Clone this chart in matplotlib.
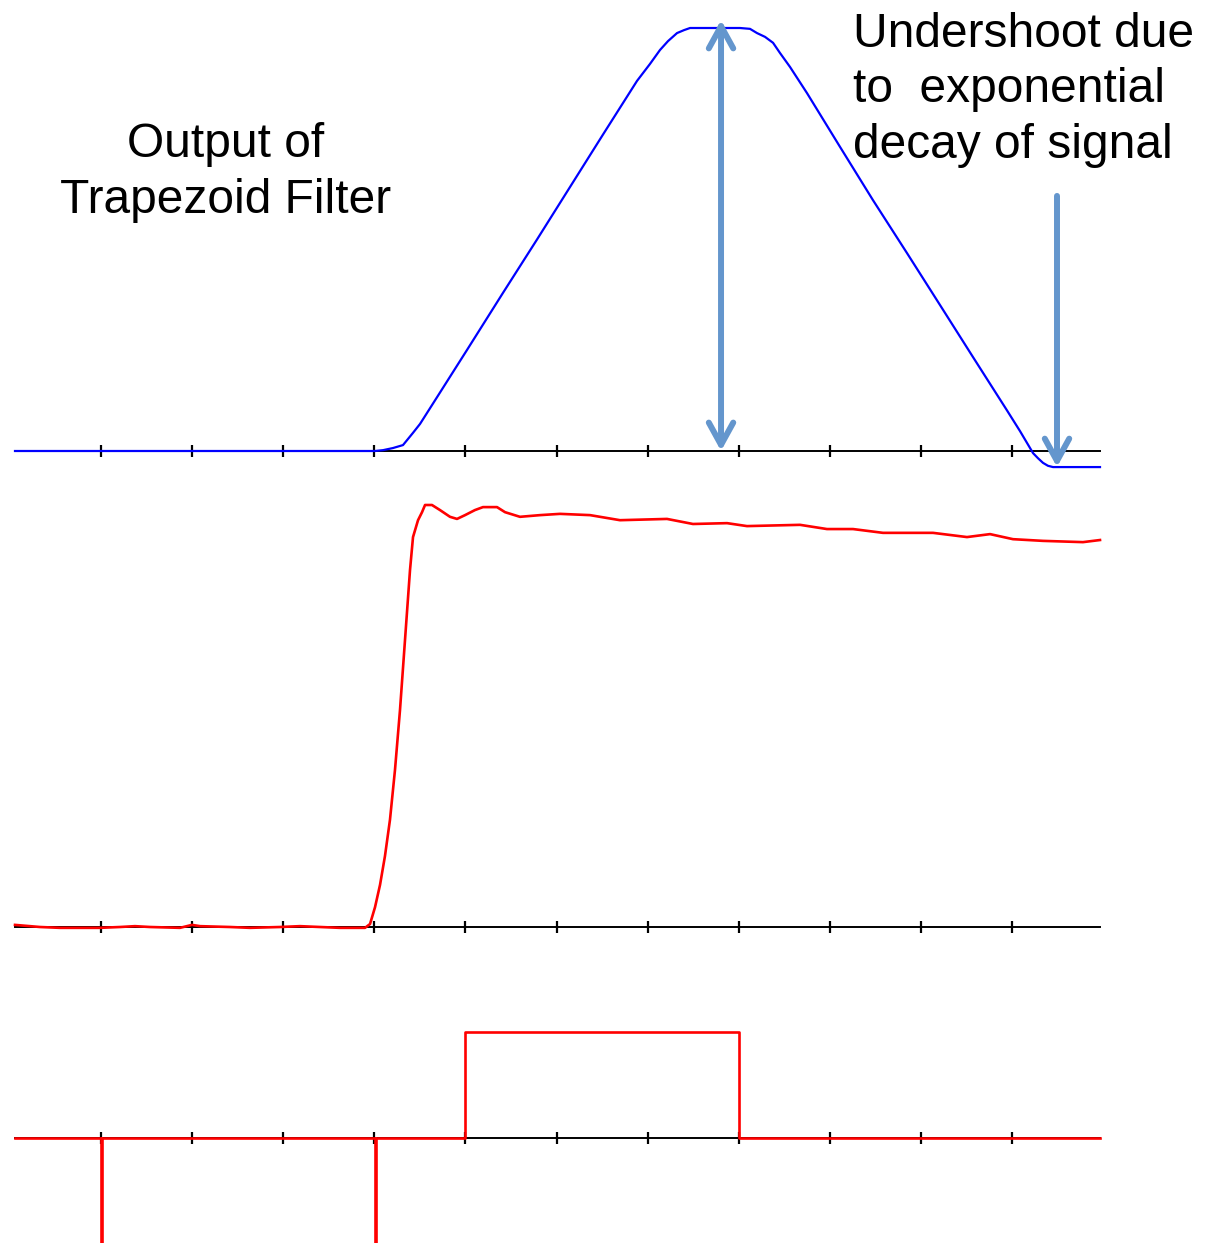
#Trapezoid filter output, preamp step and gate signals
import matplotlib.pyplot as plt

#time axis, in tick units (tick 0 at the first mark on the left)
t_start = -0.944
t_end = 10.966
tick_t = [0, 1, 2, 3, 4, 5, 6, 7, 8, 9, 10]

#output of the trapezoid filter (1 = flat top)
trap_t = [-0.944, 3.008, 3.096, 3.205, 3.315, 3.425, 3.502, 3.688, 4.018, 4.413,
          4.786, 5.148, 5.510, 5.884, 6.026, 6.136, 6.224, 6.323, 6.400, 6.466,
          7.014, 7.124, 7.201, 7.289, 7.377, 7.453, 7.563, 7.750, 8.112, 8.474,
          8.847, 9.210, 9.572, 9.945, 10.088, 10.165, 10.231, 10.285, 10.340, 10.395,
          10.450, 10.966]
trap_v = [0.0, 0.0, 0.002, 0.007, 0.014, 0.043, 0.064, 0.127, 0.239, 0.374,
          0.500, 0.624, 0.748, 0.875, 0.915, 0.948, 0.969, 0.988, 0.995, 1.0,
          1.0, 0.998, 0.988, 0.979, 0.965, 0.941, 0.908, 0.846, 0.719, 0.593,
          0.468, 0.345, 0.222, 0.096, 0.047, 0.019, -0.005, -0.017, -0.028, -0.035,
          -0.038, -0.038]

#preamp step signal (1 = first peak)
step_t = [-0.944, -0.670, -0.450, -0.011, 0.209, 0.373, 0.538, 0.867, 0.999, 1.087,
          1.416, 1.636, 1.965, 2.184, 2.624, 2.898, 2.953, 3.008, 3.063, 3.117,
          3.172, 3.227, 3.282, 3.337, 3.392, 3.425, 3.480, 3.524, 3.557, 3.633,
          3.721, 3.831, 3.908, 3.996, 4.105, 4.193, 4.347, 4.435, 4.599, 4.819,
          5.038, 5.368, 5.697, 6.213, 6.498, 6.872, 7.091, 7.673, 7.969, 8.255,
          8.584, 9.133, 9.506, 9.759, 10.011, 10.340, 10.779, 10.966]
step_v = [0.005, 0.0, -0.002, -0.002, 0.0, 0.002, 0.0, -0.002, 0.005, 0.002,
          0.0, -0.002, 0.0, 0.002, -0.002, -0.002, 0.007, 0.047, 0.100, 0.168,
          0.254, 0.372, 0.514, 0.680, 0.846, 0.924, 0.964, 0.983, 1.0, 1.0,
          0.988, 0.972, 0.967, 0.976, 0.988, 0.995, 0.995, 0.983, 0.972, 0.976,
          0.979, 0.976, 0.964, 0.967, 0.955, 0.957, 0.950, 0.953, 0.943, 0.943,
          0.934, 0.934, 0.924, 0.931, 0.919, 0.915, 0.912, 0.917]

#gate signal with the two trigger spikes (steps-post)
gate_t = [-0.944, 0.0, 0.01, 3.01, 3.02, 4.0, 7.0, 10.966]
gate_v = [0, -2, 0, -2, 0, 1, 0, 0]

#arrows on the top trace
peak_arrow_t = 6.806
peak_arrow_v = [0.0, 1.019]
under_arrow_t = 10.494
under_arrow_v = [0.603, -0.038]

#figure size in pixels and pixel position of t=0 / one tick step
W, H = 1216, 1243
X0, DX = 101, 91.1

fig = plt.figure(figsize=(W / 100, H / 100), dpi=100)

#make an axes for a horizontal band of the picture
def band(top, bottom, base, unit):
    ax = fig.add_axes([0, 1 - bottom / H, 1, (bottom - top) / H])
    ax.set_xlim(-X0 / DX, (W - X0) / DX)
    ax.set_ylim((base - bottom) / unit, (base - top) / unit)
    ax.axis('off')
    #black time axis with small tick marks
    ax.plot([t_start, t_end], [0, 0], color='black', lw=1.4, zorder=1)
    ax.plot(tick_t, [0] * len(tick_t), linestyle='none', marker='|',
            ms=8, mew=1.6, color='black', zorder=1)
    return ax

ax1 = band(0, 475, 451, 423)
ax2 = band(475, 960, 927, 422)
ax3 = band(960, 1243, 1138, 106)

ax1.plot(trap_t, trap_v, color='#0000ff', lw=1.6, zorder=2)
ax2.plot(step_t, step_v, color='#ff0000', lw=1.9, zorder=2)
ax3.plot(gate_t, gate_v, color='#ff0000', lw=1.9, drawstyle='steps-post', zorder=2)

#arrows
arrow_col = '#6496cd'
ax1.annotate('', xy=(peak_arrow_t, peak_arrow_v[1]), xytext=(peak_arrow_t, peak_arrow_v[0]),
             arrowprops=dict(arrowstyle='<->,head_length=0.4,head_width=0.22',
                             color=arrow_col, lw=4.3, mutation_scale=40,
                             shrinkA=0, shrinkB=0), zorder=5)
ax1.annotate('', xy=(under_arrow_t, under_arrow_v[1]), xytext=(under_arrow_t, under_arrow_v[0]),
             arrowprops=dict(arrowstyle='->,head_length=0.4,head_width=0.22',
                             color=arrow_col, lw=4.3, mutation_scale=40,
                             shrinkA=0, shrinkB=0), zorder=5)

#labels
font = dict(family='Liberation Sans', size=34.5, color='black', va='baseline')
fig.text(226 / W, 1 - 157 / H, 'Output of', ha='center', **font)
fig.text(226 / W, 1 - 213 / H, 'Trapezoid Filter', ha='center', **font)
fig.text(853 / W, 1 - 47 / H, 'Undershoot due', ha='left', **font)
fig.text(853 / W, 1 - 102 / H, 'to  exponential', ha='left', **font)
fig.text(853 / W, 1 - 158 / H, 'decay of signal', ha='left', **font)

plt.savefig('out.png', dpi=100)
